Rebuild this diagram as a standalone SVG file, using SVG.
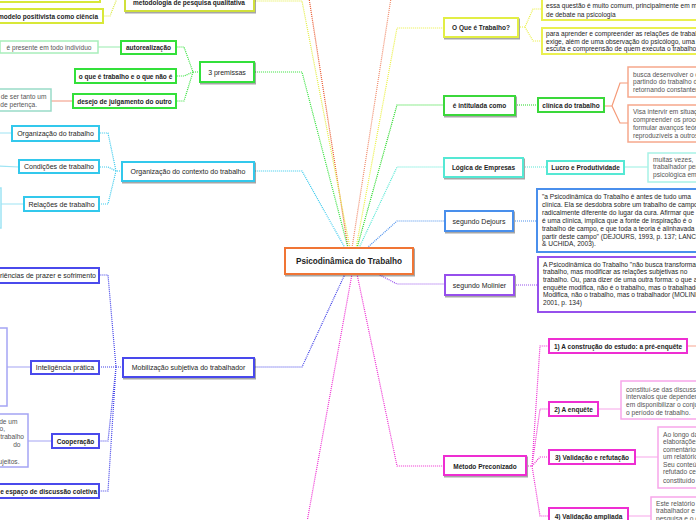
<svg xmlns="http://www.w3.org/2000/svg" width="696" height="520" viewBox="0 0 696 520">
<style>
text{font-family:"Liberation Sans",Arial,sans-serif;fill:#1e1e1e}
.t{font-size:7px}
.b{font-size:6.5px;font-weight:bold}
.c{text-anchor:middle}
.e{text-anchor:end}
.g{font-size:6.6px;fill:#555}
.q{font-size:6.6px;fill:#1e1e1e}
.n{fill:#fff;stroke-width:2}
.l{fill:#fff;stroke-width:1.5}
.d{fill:none;stroke-width:1.2;stroke-dasharray:1 1}
.s{fill:none;stroke-width:1.2}
</style>
<defs>
<filter id="sh" x="-10%" y="-20%" width="130%" height="160%">
<feDropShadow dx="1" dy="1.5" stdDeviation="0.7" flood-color="#000" flood-opacity="0.35"/>
</filter>
</defs>
<rect width="696" height="520" fill="#fff"/>
<g id="connectors">
<path class="d" stroke="#e8552a" d="M348,248 L309,-2"/>
<path class="d" stroke="#f08a6a" d="M352,248 L391,-2"/>
<path class="d" stroke="#e2ec40" d="M350,248 L302,1 L254,1"/>
<path class="d" stroke="#33e03a" d="M348,248 L302,72 L254,72"/>
<path class="d" stroke="#33c8ec" d="M345,248 L302,171 L254,171"/>
<path class="d" stroke="#eaf040" d="M356,248 L397,28 L444,28"/>
<path class="d" stroke="#22d822" d="M357,248 L397,105 L444,105"/>
<path class="d" stroke="#55e8d4" d="M359,248 L397,167 L444,167"/>
<path class="d" stroke="#4a8fec" d="M367,248 L397,221 L445,221"/>
<path class="d" stroke="#9650ec" d="M378,274 L397,284 L445,284"/>
<path class="d" stroke="#ee2ed2" d="M357,274 L397,466 L444,466"/>
<path class="d" stroke="#ee2ed2" d="M352,274 L307,522"/>
<path class="d" stroke="#4040e8" d="M345,274 L302,367 L254,367"/>
<path class="d" stroke="#d8e838" d="M125,-4 L118,-4 L110,16 L103,16"/>
<path class="d" stroke="#33e03a" d="M200,72 L193,72 L184,47 L176,47 M193,72 L184,76 L176,76 M193,72 L184,101 L176,101"/>
<path class="s" stroke="#a8eebb" d="M121,47 L98,47"/>
<path class="s" stroke="#f4a590" d="M73,101 L51,101"/>
<path class="d" stroke="#33c8ec" d="M122,171 L116,171 L108,133 L99,133 M116,171 L108,167 L99,167 M116,171 L108,204 L99,204"/>
<path class="s" stroke="#9ee4f4" d="M12,133 L-2,133 M19,167 L-2,166 M24,204 L-2,204"/>
<path class="d" stroke="#4040e8" d="M123,367 L116,367 L108,275 L99,275 M116,367 L99,367 M116,367 L108,441 L99,441 M116,367 L108,491 L99,491"/>
<path class="s" stroke="#a4a4f4" d="M31,367 L7,367 M52,441 L28,441"/>
<path class="d" stroke="#eaf040" d="M518,27 L525,27 L533,9 L542,9 M525,27 L533,41 L542,41"/>
<path class="d" stroke="#22d822" d="M515,105 L538,105"/>
<path class="s" stroke="#f59a78" d="M604,106 L612,106 L620,83 L628,83 M612,106 L620,123 L628,123"/>
<path class="d" stroke="#55e8d4" d="M523,167 L547,167"/>
<path class="s" stroke="#a8f2e6" d="M624,167 L648,167"/>
<path class="d" stroke="#4a8fec" d="M513,221 L537,221"/>
<path class="d" stroke="#9650ec" d="M514,285 L538,285"/>
<path class="d" stroke="#ee2ed2" d="M526,466 L532,466 L540,346 L549,346 M532,466 L540,409 L549,409 M532,466 L540,457 L549,457 M532,466 L540,516 L549,516"/>
<path class="s" stroke="#f8b4a4" d="M687,346 L698,346"/>
<path class="s" stroke="#f8a6ea" d="M598,409 L621,409 M635,457 L658,457 M628,516 L651,516"/>
</g>
<g id="center">
<rect class="n" x="285" y="248" width="128" height="26" stroke="#f07535" filter="url(#sh)"/>
<text x="349" y="264" class="c" style="font-size:8.2px;font-weight:bold">Psicodinâmica do Trabalho</text>
</g>
<g id="n-topleft"><rect class="n" x="-10" y="-20" width="110" height="22" stroke="#d8e838"/></g>
<g id="n-metodologia">
<rect class="n" x="125" y="-12" width="129" height="23" stroke="#d0e03a" filter="url(#sh)"/>
<text x="189" y="4.5" class="b c">metodologia de pesquisa qualitativa</text>
</g>
<g id="n-modelo">
<rect class="n" x="-20" y="9" width="123" height="14" stroke="#d8e838"/>
<text x="98" y="18.5" class="b e">modelo positivista como ciência</text>
</g>
<g id="n-3premissas">
<rect class="n" x="200" y="62" width="54" height="20" stroke="#33e03a" filter="url(#sh)"/>
<text x="227" y="74.5" class="t c">3 premissas</text>
</g>
<g id="n-autorealizacao">
<rect class="n" x="121" y="41" width="55" height="13" stroke="#33e03a"/>
<text x="148.5" y="50" class="b c">autorealização</text>
</g>
<g id="n-oque-nao">
<rect class="n" x="75" y="69" width="101" height="14" stroke="#33e03a"/>
<text x="125.5" y="78.5" class="b c">o que é trabalho e o que não é</text>
</g>
<g id="n-desejo">
<rect class="n" x="73" y="94" width="103" height="14" stroke="#33e03a"/>
<text x="124.5" y="103.5" class="b c">desejo de julgamento do outro</text>
</g>
<g id="n-presente">
<rect class="l" x="0" y="41" width="98" height="12" stroke="#a8eebb"/>
<text x="49" y="49.5" class="g c">é presente em todo indivíduo</text>
</g>
<g id="n-pertenca">
<rect class="l" x="-80" y="89" width="131" height="22" stroke="#99dbc8"/>
<text x="46.5" y="99" class="g e">de ser tanto um</text>
<text x="37" y="106.5" class="g e">de pertença.</text>
</g>
<g id="n-orgcontexto">
<rect class="n" x="122" y="162" width="132" height="19" stroke="#33c8ec" filter="url(#sh)"/>
<text x="188" y="173.5" class="t c">Organização do contexto do trabalho</text>
</g>
<g id="n-orgtrabalho">
<rect class="n" x="12" y="126" width="87" height="15" stroke="#33c8ec"/>
<text x="55.5" y="136" class="t c">Organização do trabalho</text>
</g>
<g id="n-condicoes">
<rect class="n" x="19" y="160" width="80" height="13" stroke="#33c8ec"/>
<text x="59" y="169" class="t c">Condições de trabalho</text>
</g>
<g id="n-relacoes">
<rect class="n" x="24" y="197" width="75" height="14" stroke="#33c8ec"/>
<text x="61.5" y="206.5" class="t c">Relações de trabalho</text>
</g>
<g id="n-relacoes-child"><rect class="l" x="-100" y="188" width="101" height="40" stroke="#9ee4f4"/></g>
<g id="n-mobilizacao">
<rect class="n" x="123" y="358" width="131" height="19" stroke="#4a4aec" filter="url(#sh)"/>
<text x="188.5" y="369.5" class="t c">Mobilização subjetiva do trabalhador</text>
</g>
<g id="n-experiencias">
<rect class="n" x="-60" y="268" width="159" height="15" stroke="#4a4aec"/>
<text x="96" y="278" class="t e">Experiências de prazer e sofrimento</text>
</g>
<g id="n-inteligencia">
<rect class="n" x="31" y="361" width="68" height="13" stroke="#4a4aec"/>
<text x="65" y="370" class="t c">Inteligência prática</text>
</g>
<g id="n-inteligencia-child"><rect class="l" x="-100" y="328" width="107" height="78" stroke="#a4a4f4"/></g>
<g id="n-cooperacao">
<rect class="n" x="52" y="434" width="47" height="14" stroke="#4a4aec"/>
<text x="75.5" y="443.5" class="b c">Cooperação</text>
</g>
<g id="n-cooperacao-child">
<rect class="l" x="-100" y="414" width="128" height="53" stroke="#a4a4f4"/>
<text x="17.5" y="423.5" class="g e">de um</text>
<text x="5" y="431.2" class="g e">to,</text>
<text x="24" y="439" class="g e">trabalho</text>
<text x="20.5" y="446.7" class="g e">do</text>
<text x="19.5" y="463.5" class="g e">sujeitos.</text>
</g>
<g id="n-espaco">
<rect class="n" x="-60" y="484" width="159" height="14" stroke="#4a4aec"/>
<text x="97" y="493.5" class="b e">e espaço de discussão coletiva</text>
</g>
<g id="n-oque">
<rect class="n" x="444" y="18" width="74" height="19" stroke="#e2ee44" filter="url(#sh)"/>
<text x="481" y="30" class="b c">O Que é Trabalho?</text>
</g>
<g id="n-oque-c1">
<rect class="n" x="542" y="-5" width="160" height="25" stroke="#eaf050"/>
<text x="546" y="8" class="q">essa questão é muito comum, principalmente em meios</text>
<text x="546" y="16.5" class="q">de debate na psicologia</text>
</g>
<g id="n-oque-c2">
<rect class="n" x="542" y="28" width="160" height="26" stroke="#eaf050"/>
<text x="546" y="36" class="q">para aprender e compreender as relações de trabalho</text>
<text x="546" y="43.5" class="q">exige, além de uma observação do psicólogo, uma</text>
<text x="546" y="51.2" class="q">escuta e compreensão de quem executa o trabalho</text>
</g>
<g id="n-intitulada">
<rect class="n" x="444" y="96" width="71" height="19" stroke="#3ad83a" filter="url(#sh)"/>
<text x="479.5" y="107.5" class="b c">é intitulada como</text>
</g>
<g id="n-clinica">
<rect class="n" x="538" y="98" width="66" height="14" stroke="#3ad83a"/>
<text x="571" y="107.5" class="b c">clínica do trabalho</text>
</g>
<g id="n-clinica-c1">
<rect class="l" x="628" y="67" width="80" height="30" stroke="#f6a88c"/>
<text x="633" y="76.5" class="g">busca desenvolver o conhecimento</text>
<text x="633" y="84" class="g">partindo do trabalho de campo e</text>
<text x="633" y="91.5" class="g">retornando constantemente a ele</text>
</g>
<g id="n-clinica-c2">
<rect class="l" x="628" y="105" width="80" height="37" stroke="#f6a88c"/>
<text x="633" y="113.5" class="g">Visa intervir em situações</text>
<text x="633" y="121.5" class="g">compreender os processos e</text>
<text x="633" y="129.5" class="g">formular avanços teóricos</text>
<text x="633" y="137.5" class="g">reproduzíveis a outros contextos</text>
</g>
<g id="n-logica">
<rect class="n" x="444" y="158" width="79" height="19" stroke="#55e8d4" filter="url(#sh)"/>
<text x="483.5" y="169.5" class="b c">Lógica de Empresas</text>
</g>
<g id="n-lucro">
<rect class="n" x="547" y="161" width="77" height="13" stroke="#55e8d4"/>
<text x="585.5" y="170" class="b c">Lucro e Produtividade</text>
</g>
<g id="n-lucro-c">
<rect class="l" x="648" y="153" width="60" height="29" stroke="#a8f2e6"/>
<text x="653" y="161.5" class="g">muitas vezes,</text>
<text x="653" y="169.3" class="g">trabalhador perde</text>
<text x="653" y="177.2" class="g">psicológica em</text>
</g>
<g id="n-dejours">
<rect class="n" x="445" y="211" width="68" height="20" stroke="#4a8fec" filter="url(#sh)"/>
<text x="479" y="223.5" class="t c">segundo Dejours</text>
</g>
<g id="n-dejours-c">
<rect class="n" x="537" y="189" width="170" height="63" stroke="#4a8fec"/>
<text x="542" y="199" class="q">"a Psicodinâmica do Trabalho é antes de tudo uma</text>
<text x="542" y="206.9" class="q">clínica.  Ela se desdobra sobre um trabalho de campo</text>
<text x="542" y="214.8" class="q">radicalmente diferente do lugar da cura.  Afirmar que</text>
<text x="542" y="222.7" class="q">é uma clínica, implica que a fonte de inspiração é o</text>
<text x="542" y="230.6" class="q">trabalho de campo, e que toda a teoria é alinhavada a</text>
<text x="542" y="238.5" class="q">partir deste campo" (DEJOURS, 1993, p. 137; LANCMAN</text>
<text x="542" y="246.4" class="q">&amp; UCHIDA, 2003).</text>
</g>
<g id="n-molinier">
<rect class="n" x="445" y="275" width="69" height="20" stroke="#9650ec" filter="url(#sh)"/>
<text x="479.5" y="287.5" class="t c">segundo Molinier</text>
</g>
<g id="n-molinier-c">
<rect class="n" x="538" y="257" width="170" height="55" stroke="#9650ec"/>
<text x="543" y="266.5" class="q">A Psicodinâmica do Trabalho "não busca transformar o</text>
<text x="543" y="274.2" class="q">trabalho, mas modificar as relações subjetivas no</text>
<text x="543" y="281.9" class="q">trabalho. Ou, para dizer de uma outra forma: o que a</text>
<text x="543" y="289.6" class="q">enquête modifica, não é o trabalho, mas o trabalhador</text>
<text x="543" y="297.3" class="q">Modifica, não o trabalho, mas o trabalhador (MOLINIER,</text>
<text x="543" y="305" class="q">2001, p. 134)</text>
</g>
<g id="n-metodo">
<rect class="n" x="444" y="456" width="82" height="19" stroke="#ee2ed2" filter="url(#sh)"/>
<text x="485" y="468.5" class="b c">Método Preconizado</text>
</g>
<g id="n-step1">
<rect class="n" x="549" y="339" width="138" height="14" stroke="#ee2ed2"/>
<text x="618" y="348.5" class="b c">1) A construção do estudo: a pré-enquête</text>
</g>
<g id="n-step2">
<rect class="n" x="549" y="402" width="49" height="14" stroke="#ee2ed2"/>
<text x="573.5" y="411.5" class="b c">2) A enquête</text>
</g>
<g id="n-step2-c">
<rect class="l" x="621" y="381" width="85" height="38" stroke="#f8a6ea"/>
<text x="626" y="391.5" class="g">constituí-se das discussões em</text>
<text x="626" y="399.2" class="g">intervalos que dependem da</text>
<text x="626" y="406.9" class="g">em disponibilizar o conjunto</text>
<text x="626" y="414.6" class="g">o período de trabalho.</text>
</g>
<g id="n-step3">
<rect class="n" x="549" y="450" width="86" height="14" stroke="#ee2ed2"/>
<text x="592" y="459.5" class="b c">3) Validação e refutação</text>
</g>
<g id="n-step3-c">
<rect class="l" x="658" y="427" width="50" height="61" stroke="#f8a6ea"/>
<text x="663" y="436.5" class="g">Ao longo das</text>
<text x="663" y="444" class="g">elaborações</text>
<text x="663" y="451.6" class="g">comentários</text>
<text x="663" y="459.2" class="g">um relatório</text>
<text x="663" y="466.8" class="g">Seu conteúdo</text>
<text x="663" y="474.4" class="g">refutado ce</text>
<text x="663" y="482.6" class="g">constituído</text>
</g>
<g id="n-step4">
<rect class="n" x="549" y="508" width="79" height="15" stroke="#ee2ed2"/>
<text x="588.5" y="518.5" class="b c">4) Validação ampliada</text>
</g>
<g id="n-step4-c">
<rect class="l" x="651" y="497" width="60" height="30" stroke="#f8a6ea"/>
<text x="656" y="505.5" class="g">Este relatório</text>
<text x="656" y="513.2" class="g">trabalhador e</text>
<text x="656" y="521" class="g">pesquisa e o c</text>
</g>
</svg>
